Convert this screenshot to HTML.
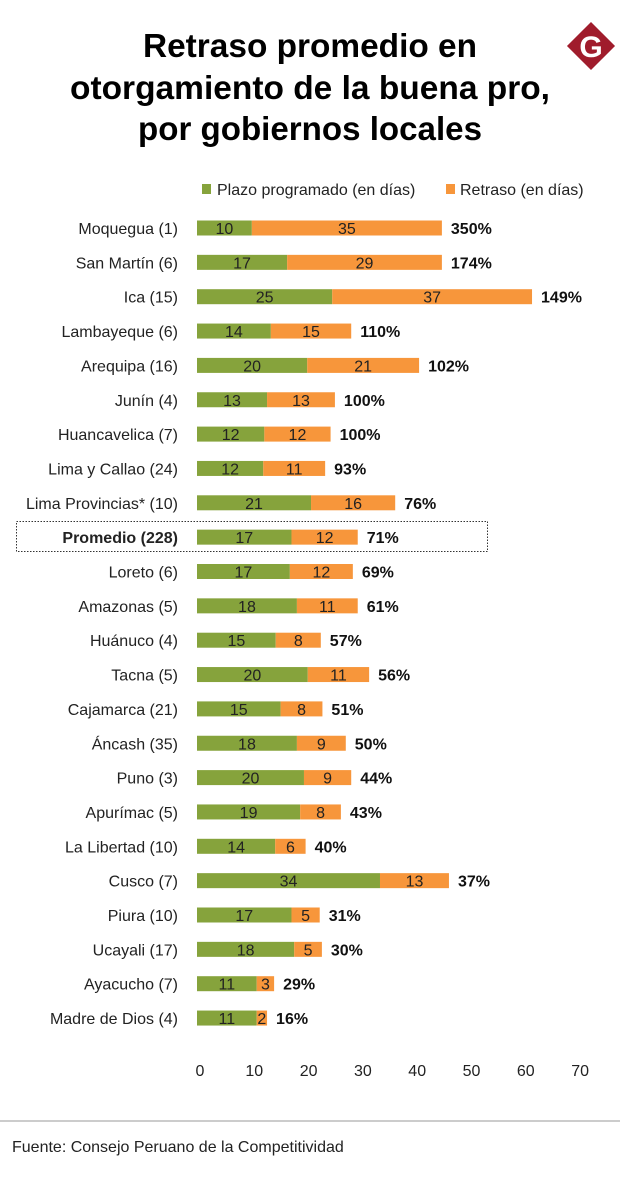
<!DOCTYPE html>
<html><head><meta charset="utf-8"><style>
body{margin:0;background:#fff;}
svg{display:block;font-family:"Liberation Sans",sans-serif;}
</style></head><body>
<svg id="chart" width="620" height="1178">
<g font-weight="bold" font-size="33" text-anchor="middle" fill="#000">
<text x="310" y="57" textLength="334" lengthAdjust="spacingAndGlyphs">Retraso promedio en</text>
<text x="310" y="99" textLength="480" lengthAdjust="spacingAndGlyphs">otorgamiento de la buena pro,</text>
<text x="310" y="140" textLength="344" lengthAdjust="spacingAndGlyphs">por gobiernos locales</text>
</g>
<g>
<rect x="574" y="29" width="34" height="34" transform="rotate(45 591 46)" fill="#a01c2c"/>
<text x="591" y="57" text-anchor="middle" font-size="30" font-weight="bold" fill="#fff">G</text>
</g>
<g font-size="16" fill="#222">
<rect x="202" y="184" width="9" height="10" fill="#86a33c"/>
<text x="217" y="195">Plazo programado (en días)</text>
<rect x="446" y="184" width="9" height="10" fill="#f7963b"/>
<text x="460" y="195">Retraso (en días)</text>
</g>
<rect x="16.5" y="521.5" width="471" height="30" fill="none" stroke="#333" stroke-width="1" stroke-dasharray="1.5,1.5"/>
<g id="bars"></g>
<g id="axis"></g>
<line x1="0" y1="1121" x2="620" y2="1121" stroke="#999" stroke-width="1"/>
<text x="12" y="1152" font-size="16" fill="#222">Fuente: Consejo Peruano de la Competitividad</text>
</svg>
<script>
const categories=["Moquegua (1)","San Martín (6)","Ica (15)","Lambayeque (6)","Arequipa (16)","Junín (4)","Huancavelica (7)","Lima y Callao (24)","Lima Provincias* (10)","Promedio (228)","Loreto (6)","Amazonas (5)","Huánuco (4)","Tacna (5)","Cajamarca (21)","Áncash (35)","Puno (3)","Apurímac (5)","La Libertad (10)","Cusco (7)","Piura (10)","Ucayali (17)","Ayacucho (7)","Madre de Dios (4)"];
const plazo=[10.1,16.6,24.9,13.6,20.3,12.9,12.4,12.2,21,17.4,17.1,18.4,14.5,20.4,15.4,18.4,19.7,19,14.4,33.7,17.4,17.9,11,11];
const retraso=[35,28.5,36.8,14.8,20.6,12.5,12.2,11.4,15.5,12.2,11.6,11.2,8.3,11.3,7.7,9,8.7,7.5,5.6,12.7,5.2,5.1,3.2,1.9];
const pct=["350%","174%","149%","110%","102%","100%","100%","93%","76%","71%","69%","61%","57%","56%","51%","50%","44%","43%","40%","37%","31%","30%","29%","16%"];
const ticks=[0,10,20,30,40,50,60,70];
const NS="http://www.w3.org/2000/svg";
const x0=197,k=5.43,y0=228,step=34.35,bh=15;
const xs=v=>x0+v*k, ys=i=>y0+i*step;
function mk(t,a,p){const e=document.createElementNS(NS,t);for(const n in a)e.setAttribute(n,a[n]);p.appendChild(e);return e;}
const g=document.getElementById('bars');
categories.forEach((c,i)=>{
 const y=ys(i);const bold=c.startsWith("Promedio");
 const l=mk('text',{x:178,y:y+6,'text-anchor':'end','font-size':16,fill:'#222','font-weight':bold?'bold':'normal'},g);l.textContent=c;
 
 
 const r1=mk('rect',{x:xs(0),y:y-bh/2,width:xs(plazo[i])-xs(0),height:bh,fill:'#86a33c'},g);
 
 
 const r2=mk('rect',{x:xs(plazo[i]),y:y-bh/2,width:xs(plazo[i]+retraso[i])-xs(plazo[i]),height:bh,fill:'#f7963b'},g);
 
 
 const t1=mk('text',{x:(xs(0)+xs(plazo[i]))/2,y:y+6,'text-anchor':'middle','font-size':16,fill:'#222'},g);t1.textContent=Math.round(plazo[i]);
 
 
 const t2=mk('text',{x:(xs(plazo[i])+xs(plazo[i]+retraso[i]))/2,y:y+6,'text-anchor':'middle','font-size':16,fill:'#222'},g);t2.textContent=Math.round(retraso[i]);
 
 
 const t3=mk('text',{x:xs(plazo[i]+retraso[i])+9,y:y+6,'font-size':16,'font-weight':'bold',fill:'#111'},g);t3.textContent=pct[i];
 
 
});
const ax=document.getElementById('axis');
ticks.forEach(v=>{
 const t=mk('text',{x:xs(v)+3,y:1076,'text-anchor':'middle','font-size':16,fill:'#222'},ax);t.textContent=v;
 
 
});
</script>
</body></html>
